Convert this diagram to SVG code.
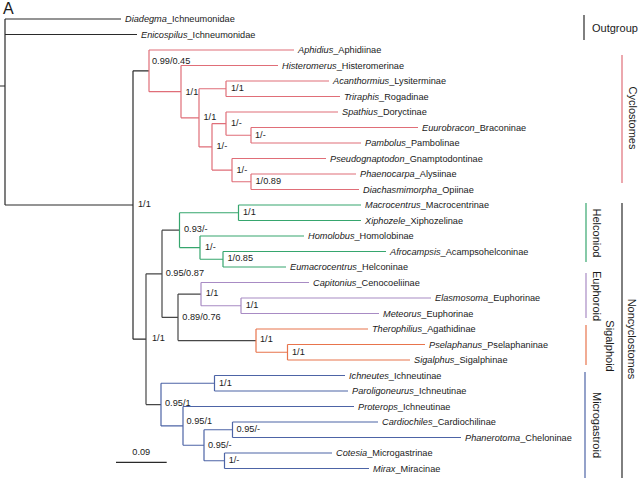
<svg xmlns="http://www.w3.org/2000/svg" width="640" height="480" viewBox="0 0 640 480">
<style>
text{font-family:"Liberation Sans",Arial,sans-serif;font-size:9.2px;fill:#1a1a1a}
.it{font-style:italic}
.grp{font-size:11px}
path{fill:none;stroke-width:1.2}
.k{stroke:#2a2a2a}
.d{stroke:#474747}
.r{stroke:#e06e78}
.g{stroke:#36a66e}
.p{stroke:#a88bc4}
.o{stroke:#e8744c}
.b{stroke:#4d64a6}
</style>
<rect width="640" height="480" fill="#fff"/>
<text x="3" y="14" style="font-size:16px">A</text>

<g id="connectors">
<path class="k" d="M0 86H5M5 19V205M5 19H121M5 34.5H137M5 205H133M133 70.8V339.2M133 70.8H149M133 339.2H146"/>
<path class="r" d="M149 50V91.7M149 50H294M149 91.7H181M181 65.5V117.8M181 65.5H278M181 117.8H199M199 88.75V146.9M199 88.75H226M199 146.9H212M226 81V96.5M226 81H329M226 96.5H340M212 123.6V170.1M212 123.6H226M212 170.1H232M226 112V135.25M226 112H338M226 135.25H251M251 127.5V143M251 127.5H418M251 143H361M232 158.5V181.75M232 158.5H326M232 181.75H251M251 174V189.5M251 174H356M251 189.5H359"/>
<path class="d" d="M146 273.8V404.6M146 273.8H162M146 404.6H161M162 230.2V317.4M162 230.2H179.5M162 317.4H178M178 294.1V340.6M178 294.1H201M178 340.6H256"/>
<path class="g" d="M179.5 212.75V247.6M179.5 212.75H238.5M179.5 247.6H200M238.5 205V220.5M238.5 205H361M238.5 220.5H361M200 236V259.25M200 236H304M200 259.25H223M223 251.5V267M223 251.5H386M223 267H286"/>
<path class="p" d="M201 282.5V305.75M201 282.5H309M201 305.75H241M241 298V313.5M241 298H431M241 313.5H379"/>
<path class="o" d="M256 329V352.25M256 329H368M256 352.25H287.5M287.5 344.5V360M287.5 344.5H425M287.5 360H410"/>
<path class="b" d="M161 383.25V425.9M161 383.25H214.5M161 425.9H183M214.5 375.5V391M214.5 375.5H345M214.5 391H348M183 406.5V445.25M183 406.5H354M183 445.25H204M204 429.75V460.75M204 429.75H232.5M204 460.75H224.5M232.5 422V437.5M232.5 422H378M232.5 437.5H461M224.5 453V468.5M224.5 453H332M224.5 468.5H369"/>
<path class="k" d="M116 462.3H166.7"/>
</g>

<g id="leaves">
<g id="t1"><text x="125" y="22.3"><tspan class="it">Diadegma</tspan>_Ichneumonidae</text></g>
<g id="t2"><text x="141" y="37.8"><tspan class="it">Enicospilus</tspan>_Ichneumonidae</text></g>
<g id="t3"><text x="298" y="53.3"><tspan class="it">Aphidius</tspan>_Aphidiinae</text></g>
<g id="t4"><text x="282" y="68.8"><tspan class="it">Histeromerus</tspan>_Histeromerinae</text></g>
<g id="t5"><text x="333" y="84.3"><tspan class="it">Acanthormius</tspan>_Lysiterminae</text></g>
<g id="t6"><text x="344" y="99.8"><tspan class="it">Triraphis</tspan>_Rogadinae</text></g>
<g id="t7"><text x="342" y="115.3"><tspan class="it">Spathius</tspan>_Doryctinae</text></g>
<g id="t8"><text x="422" y="130.8"><tspan class="it">Euurobracon</tspan>_Braconinae</text></g>
<g id="t9"><text x="365" y="146.3"><tspan class="it">Pambolus</tspan>_Pambolinae</text></g>
<g id="t10"><text x="330" y="161.8"><tspan class="it">Pseudognaptodon</tspan>_Gnamptodontinae</text></g>
<g id="t11"><text x="360" y="177.3"><tspan class="it">Phaenocarpa</tspan>_Alysiinae</text></g>
<g id="t12"><text x="363" y="192.8"><tspan class="it">Diachasmimorpha</tspan>_Opiinae</text></g>
<g id="t13"><text x="365" y="208.3"><tspan class="it">Macrocentrus</tspan>_Macrocentrinae</text></g>
<g id="t14"><text x="365" y="223.8"><tspan class="it">Xiphozele</tspan>_Xiphozelinae</text></g>
<g id="t15"><text x="308" y="239.3"><tspan class="it">Homolobus</tspan>_Homolobinae</text></g>
<g id="t16"><text x="390" y="254.8"><tspan class="it">Afrocampsis</tspan>_Acampsohelconinae</text></g>
<g id="t17"><text x="290" y="270.3"><tspan class="it">Eumacrocentrus</tspan>_Helconinae</text></g>
<g id="t18"><text x="313" y="285.8"><tspan class="it">Capitonius</tspan>_Cenocoeliinae</text></g>
<g id="t19"><text x="435" y="301.3"><tspan class="it">Elasmosoma</tspan>_Euphorinae</text></g>
<g id="t20"><text x="383" y="316.8"><tspan class="it">Meteorus</tspan>_Euphorinae</text></g>
<g id="t21"><text x="372" y="332.3"><tspan class="it">Therophilius</tspan>_Agathidinae</text></g>
<g id="t22"><text x="429" y="347.8"><tspan class="it">Pselaphanus</tspan>_Pselaphaninae</text></g>
<g id="t23"><text x="414" y="363.3"><tspan class="it">Sigalphus</tspan>_Sigalphinae</text></g>
<g id="t24"><text x="349" y="378.8"><tspan class="it">Ichneutes</tspan>_Ichneutinae</text></g>
<g id="t25"><text x="352" y="394.3"><tspan class="it">Paroligoneurus</tspan>_Ichneutinae</text></g>
<g id="t26"><text x="358" y="409.8"><tspan class="it">Proterops</tspan>_Ichneutinae</text></g>
<g id="t27"><text x="382" y="425.3"><tspan class="it">Cardiochiles</tspan>_Cardiochilinae</text></g>
<g id="t28"><text x="465" y="440.8"><tspan class="it">Phanerotoma</tspan>_Cheloninae</text></g>
<g id="t29"><text x="336" y="456.3"><tspan class="it">Cotesia</tspan>_Microgastrinae</text></g>
<g id="t30"><text x="373" y="471.8"><tspan class="it">Mirax</tspan>_Miracinae</text></g>
</g>

<g id="supports">
<g id="n-cyc"><text x="152" y="64.3">0.99/0.45</text></g>
<g id="n-b"><text x="185.5" y="95.3">1/1</text></g>
<g id="n-a"><text x="231" y="91.3">1/1</text></g>
<g id="n-c"><text x="203.5" y="120.3">1/1</text></g>
<g id="n-e"><text x="231" y="126.3">1/-</text></g>
<g id="n-f"><text x="255" y="137.8">1/-</text></g>
<g id="n-d"><text x="216.5" y="149.3">1/-</text></g>
<g id="n-h"><text x="236.5" y="173.3">1/-</text></g>
<g id="n-g"><text x="255.5" y="184.3">1/0.89</text></g>
<g id="n-z"><text x="138" y="207.3">1/1</text></g>
<g id="n-i"><text x="243" y="215.3">1/1</text></g>
<g id="n-l"><text x="184" y="232.3">0.93/-</text></g>
<g id="n-k"><text x="205" y="250">1/-</text></g>
<g id="n-j"><text x="227.5" y="261.3">1/0.85</text></g>
<g id="n-r"><text x="165.7" y="276">0.95/0.87</text></g>
<g id="n-n"><text x="205.7" y="296.3">1/1</text></g>
<g id="n-m"><text x="245.7" y="308.3">1/1</text></g>
<g id="n-q"><text x="182.3" y="320">0.89/0.76</text></g>
<g id="n-y"><text x="152" y="341.3">1/1</text></g>
<g id="n-p"><text x="260" y="342.3">1/1</text></g>
<g id="n-o"><text x="292" y="355">1/1</text></g>
<g id="n-s"><text x="219" y="386">1/1</text></g>
<g id="n-x"><text x="165" y="405.6">0.95/1</text></g>
<g id="n-w"><text x="186.5" y="424.3">0.95/1</text></g>
<g id="n-t"><text x="236.5" y="432.3">0.95/-</text></g>
<g id="n-v"><text x="208" y="448.3">0.95/-</text></g>
<g id="n-u"><text x="228.7" y="463.3">1/-</text></g>
<g id="scale"><text x="141.3" y="455.3" text-anchor="middle">0.09</text></g>
</g>

<g id="groups">
<g id="g-out"><path class="k" d="M584 15V40"/><text class="grp" x="592" y="32">Outgroup</text></g>
<g id="g-cyc"><path class="r" d="M622 55V183"/><text class="grp" transform="translate(629 118) rotate(90)" text-anchor="middle">Cyclostomes</text></g>
<g id="g-hel"><path class="g" d="M586 203V262"/><text class="grp" transform="translate(593 233) rotate(90)" text-anchor="middle">Helconiod</text></g>
<g id="g-eup"><path class="p" d="M586 273V318"/><text class="grp" transform="translate(593 296) rotate(90)" text-anchor="middle">Euphoroid</text></g>
<g id="g-sig"><path class="o" d="M586 325V365"/><text class="grp" transform="translate(606 346) rotate(90)" text-anchor="middle">Sigalphoid</text></g>
<g id="g-mic"><path class="b" d="M585 372V478"/><text class="grp" transform="translate(593 425) rotate(90)" text-anchor="middle">Microgastroid</text></g>
<g id="g-non"><path class="k" d="M622 203V478"/><text class="grp" transform="translate(628 339) rotate(90)" text-anchor="middle">Noncyclostomes</text></g>
</g>
</svg>
